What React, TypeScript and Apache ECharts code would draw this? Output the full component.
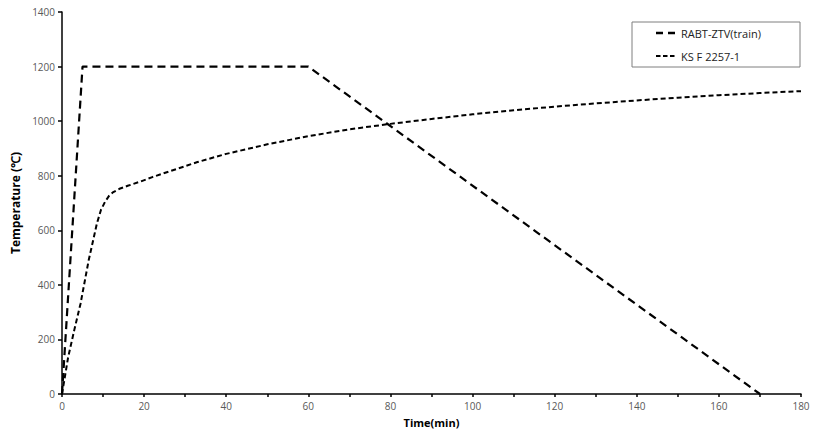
import React, { useEffect, useRef } from "react";
import * as echarts from "echarts";

const timeRabt = [0, 5, 60, 170];
const tempRabt = [0, 1200, 1200, 0];

const timeKs = [0, 1.5, 3, 4.5, 6.5, 8.5, 9.5, 10.5, 11.5, 12.5, 14, 16, 19, 22, 27, 33, 40, 50, 60, 70, 80, 90, 100, 110, 120, 130, 140, 150, 160, 170, 180];
const tempKs = [0, 135, 235, 330, 490, 625, 675, 705, 727, 740, 752, 763, 778, 795, 820, 850, 880, 915, 945, 970, 990, 1008, 1025, 1040, 1053, 1065, 1076, 1086, 1095, 1103, 1110];

const seriesNames = ["RABT-ZTV(train)", "KS F 2257-1"];

const FONT = "'Open Sans', 'Liberation Sans', sans-serif";

export default function App() {
  const ref = useRef<HTMLDivElement>(null);
  useEffect(() => {
    if (!ref.current) return;
    const chart = echarts.init(ref.current, null, { renderer: "svg" });
    const rabt = timeRabt.map((t, i) => [t, tempRabt[i]]);
    const ks = timeKs.map((t, i) => [t, tempKs[i]]);
    chart.setOption({
      animation: false,
      backgroundColor: "#fff",
      grid: { left: 62, right: 25, top: 12, bottom: 44, containLabel: false },
      xAxis: {
        type: "value",
        min: 0,
        max: 180,
        interval: 20,
        name: "Time(min)",
        nameLocation: "middle",
        nameGap: 23,
        nameTextStyle: { fontFamily: FONT, fontWeight: "bold", fontSize: 11, color: "#000" },
        axisLine: { lineStyle: { color: "#000", width: 1.5 } },
        axisTick: { show: true, length: 3, lineStyle: { color: "#000", width: 1.5 } },
        minorTick: { show: true, splitNumber: 2, length: 3, lineStyle: { color: "#000", width: 1.5 } },
        axisLabel: { fontFamily: FONT, fontSize: 10, color: "#595959", margin: 7 },
        splitLine: { show: false },
      },
      yAxis: {
        type: "value",
        min: 0,
        max: 1400,
        interval: 200,
        name: "Temperature (℃)",
        nameLocation: "middle",
        nameGap: 28,
        nameRotate: 90,
        nameTextStyle: { fontFamily: FONT, fontWeight: "bold", fontSize: 12, color: "#000" },
        axisLine: { show: true, lineStyle: { color: "#000", width: 1.5 } },
        axisTick: { show: true, length: 4, lineStyle: { color: "#000", width: 1.5 } },
        axisLabel: {
          fontFamily: FONT,
          fontSize: 10,
          color: "#595959",
          margin: 7,
          formatter: (v: number) => String(v),
        },
        splitLine: { show: false },
      },
      series: [
        {
          name: seriesNames[0],
          type: "line",
          data: rabt,
          showSymbol: false,
          symbol: "none",
          lineStyle: { color: "#000", width: 2.2, type: [8, 5] },
        },
        {
          name: seriesNames[1],
          type: "line",
          data: ks,
          showSymbol: false,
          symbol: "none",
          lineStyle: { color: "#000", width: 2, type: [5, 3] },
        },
      ],
      graphic: [
        {
          type: "rect",
          shape: { x: 632, y: 22, width: 168, height: 45 },
          style: { fill: "#fff", stroke: "#7f7f7f", lineWidth: 1 },
        },
        {
          type: "line",
          shape: { x1: 656, y1: 33, x2: 676, y2: 33 },
          style: { stroke: "#000", lineWidth: 2.5, lineDash: [7, 5] },
        },
        {
          type: "text",
          x: 681,
          y: 33,
          style: { text: seriesNames[0], fontFamily: FONT, fontSize: 11, fill: "#222", verticalAlign: "middle" },
        },
        {
          type: "line",
          shape: { x1: 656, y1: 56, x2: 676, y2: 56 },
          style: { stroke: "#000", lineWidth: 2.2, lineDash: [4.5, 2.5] },
        },
        {
          type: "text",
          x: 681,
          y: 56,
          style: { text: seriesNames[1], fontFamily: FONT, fontSize: 11, fill: "#222", verticalAlign: "middle" },
        },
      ],
    });
    return () => chart.dispose();
  }, []);
  return <div ref={ref} style={{ width: 826, height: 438, position: "absolute", left: 0, top: 0 }} />;
}
